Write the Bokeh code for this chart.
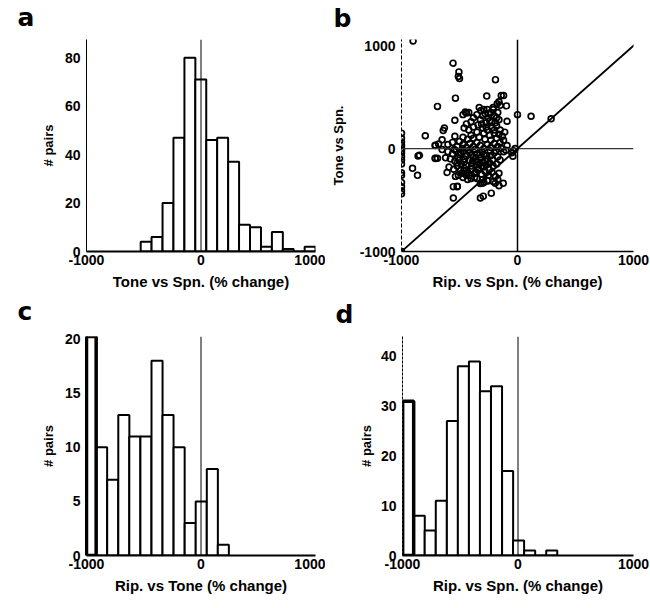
from bokeh.plotting import figure
from bokeh.models import FixedTicker, Span, Slope, Range1d, Title
from bokeh.layouts import column, row
from bokeh.embed import file_html
from bokeh.resources import INLINE

# ---------------- data ----------------
# panel a: Tone vs Spn. histogram
a_centers = [-479, -384, -288, -193, -97, -2, 94, 189, 285, 380, 476, 571, 667, 762, 858, 953]
a_counts = [4, 6, 20, 47, 80, 71, 46, 47, 37, 11, 10, 2, 8, 1, 0, 2]
a_width = 95.5

# panel c: Rip. vs Tone histogram (first bin clipped above 20)
c_centers = [-964, -868, -771, -674, -578, -481, -384, -288, -191, -94, 2, 99, 195]
c_counts = [26, 10, 7, 13, 11, 11, 18, 13, 10, 3, 5, 8, 1]
c_width = 96.6

# panel d: Rip. vs Spn. histogram
d_centers = [-951, -855, -760, -664, -568, -473, -377, -282, -186, -90, 5, 101, 196, 292]
d_counts = [31, 8, 5, 11, 27, 38, 39, 33, 34, 17, 3, 1, 0, 1]
d_width = 95.6

# panel b: scatter, Rip. vs Spn. (x) and Tone vs Spn. (y)
b_rip = [
    # outliers
    -900, -556, -505, -510, -500, -190, -535, -690, -140, -120, -265, -175, -150, -95, -160,
    -450, -440, -315, 0, 117, 290, -540, -630, -640, -795, -540, -90, -90, -50, -100, -20, -40, -35,
    # upper cluster
    -470, -420, -380, -350, -300, -280, -250, -230, -200, -180, -160, -220, -270, -320, -400,
    -440, -460, -420, -380, -340, -300, -260, -220, -180, -150, -200, -240, -290, -350, -400,
    -470, -430, -380, -330, -280, -230, -180, -150, -130, -330, -260, -210,
    -310, -270, -240, -190, -170, -210, -250, -290, -200, -160, -120, -110,
    # middle
    -680, -650, -650, -600, -560, -520, -500, -470, -440, -410, -380, -350, -320, -290, -260,
    -230, -200, -170, -140, -120, -600, -560, -530, -500, -470, -440, -410, -380, -350, -320,
    -290, -260, -230, -200, -170, -150, -620, -580, -540, -500, -460, -420, -390, -360, -330,
    -300, -270, -240, -210, -180, -690, -710, -710, -857, -845, -708, -708,
    # dense core
    -545, -515, -485, -455, -425, -395, -365, -335, -305, -275, -245, -215, -185, -475, -445,
    -415, -385, -355, -325, -295, -265, -235, -520, -490, -460, -430, -400, -370, -340, -310,
    # lower
    -590, -550, -520, -490, -460, -430, -400, -370, -340, -310, -280, -250, -220, -190, -160,
    -535, -510, -470, -440, -400, -350, -300, -260, -210, -170, -480, -518, -553, -520, -553,
    -320, -295, -226, -320, -303, -192, -123, -290, -255, -160, -607, -905, -862,
    # column at -1000
    -1000, -1000, -1000, -1000, -1000, -1000, -1000, -1000, -1000, -1000, -1000, -1000,
    -1000, -1000, -1000, -1000, -1000,
]
b_tone = [
    # outliers
    1045, 830, 745, 700, 680, 670, 490, 410, 515, 515, 510, 435, 420, 415, 455,
    355, 345, 370, 330, 315, 290, 275, 200, 175, 125, 120, 265, 30, -40, -15, 0, -75, -20,
    # upper cluster
    330, 350, 300, 330, 320, 340, 300, 350, 320, 300, 280, 260, 250, 280, 260,
    240, 200, 180, 210, 230, 200, 180, 200, 220, 180, 150, 130, 150, 160, 130,
    110, 90, 100, 110, 90, 80, 100, 60, 120, 400, 380, 400,
    240, 210, 270, 250, 350, 380, 340, 380, 180, 140, 80, 160,
    # middle
    45, 85, -10, 40, 60, 20, 70, 40, 10, 50, 20, 60, 30, 0, 40,
    10, 50, 20, 0, -30, -30, -50, -20, -60, -30, -70, -40, -80, -50, -90,
    -60, -100, -70, -40, -80, -110, -90, -100, -120, -110, -130, -110, -140, -120, -150,
    -130, -160, -140, -170, -150, -95, 30, -95, -71, -65, 32, -96,
    # dense core
    -10, -90, -150, -100, -20, -170, -10, -190, -30, -120, -200, -110, -20, 0, -160,
    -260, -120, -230, -60, -180, -70, -20, -140, -40, -220, -300, -60, -280, -130, -170,
    # lower
    -180, -200, -170, -210, -190, -230, -200, -240, -210, -250, -220, -260, -230, -270, -240,
    -270, -260, -280, -260, -290, -290, -300, -310, -320, -300, -240, -365, -370, -370, -480,
    -480, -462, -433, -340, -337, -337, -337, -330, -315, -360, -232, -192, -260,
    # column at -1000
    150, 100, 65, 30, 0, -20, -45, -80, -110, -150, -235, -260, -330, -370, -410, -440, -1000,
]

x_ticks = [-1000, 0, 1000]
x_tick_labels = ["-1000", "0", "1000"]
a_yticks = [0, 20, 40, 60, 80]
b_yticks = [-1000, 0, 1000]
b_ytick_labels = ["-1000", "0", "1000"]
c_yticks = [0, 5, 10, 15, 20]
d_yticks = [0, 10, 20, 30, 40]

FONT = "Liberation Sans"
LFONT = "DejaVu Sans"


def base_fig(letter, w, h, left, right, top, bottom, xr, yr, loff, spacer):
    p = figure(width=w, height=h, title=None, toolbar_location=None, output_backend="svg",
               x_range=Range1d(*xr), y_range=Range1d(*yr),
               min_border_left=left, min_border_right=right,
               min_border_top=top, min_border_bottom=bottom)
    # invisible spacer title lifts the panel letter away from the frame
    p.add_layout(Title(text=" ", text_font_size=spacer, standoff=0), "above")
    p.add_layout(Title(text=letter, align="left", offset=loff, standoff=0,
                       text_font=LFONT, text_font_style="bold",
                       text_font_size="25px", text_color="black"), "above")
    p.outline_line_color = None
    p.xgrid.visible = False
    p.ygrid.visible = False
    p.background_fill_color = "white"
    p.border_fill_color = "white"
    return p


def style_axes(p, xlabel, ylabel, yticks, ylabels, ylabel_standoff, x_lw, y_lw, y_dash="solid"):
    p.xaxis.ticker = FixedTicker(ticks=x_ticks)
    p.xaxis.major_label_overrides = {t: l for t, l in zip(x_ticks, x_tick_labels)}
    p.yaxis.ticker = FixedTicker(ticks=yticks)
    p.yaxis.major_label_overrides = {t: l for t, l in zip(yticks, ylabels)}
    for ax in (p.xaxis[0], p.yaxis[0]):
        ax.major_tick_in = 0
        ax.major_tick_out = 0
        ax.minor_tick_in = 0
        ax.minor_tick_out = 0
        ax.axis_line_color = "black"
        ax.major_label_text_font = FONT
        ax.major_label_text_font_style = "bold"
        ax.major_label_text_font_size = "14px"
        ax.major_label_text_color = "black"
        ax.axis_label_text_font = FONT
        ax.axis_label_text_font_style = "bold"
        ax.axis_label_text_color = "black"
    p.xaxis.axis_line_width = x_lw
    p.yaxis.axis_line_width = y_lw
    p.yaxis.axis_line_dash = y_dash
    p.xaxis.major_label_standoff = 3
    p.yaxis.major_label_standoff = 6
    p.xaxis.axis_label = xlabel
    p.yaxis.axis_label = ylabel
    p.xaxis.axis_label_text_font_size = "15px"
    p.yaxis.axis_label_text_font_size = "13px"
    p.xaxis.axis_label_standoff = 5
    p.yaxis.axis_label_standoff = ylabel_standoff


def hist_panel(letter, w, h, left, right, top, bottom, ytop, centers, counts, width,
               thick_first, loff, spacer):
    p = base_fig(letter, w, h, left, right, top, bottom, (-1000, 1000), (0, ytop), loff, spacer)
    p.vbar(x=centers, top=counts, width=width, bottom=0,
           fill_color="white", line_color="black", line_width=2)
    if thick_first:
        p.vbar(x=centers[:1], top=counts[:1], width=width, bottom=0,
               fill_color="white", line_color="black", line_width=3.5)
    p.add_layout(Span(location=0, dimension="height", line_color="black", line_width=1))
    return p


# ---------------- panel a ----------------
pa = hist_panel("a", 325, 294, 86, 10, 39, 41, 87.5, a_centers, a_counts, a_width, False, -69, "5px")
style_axes(pa, "Tone vs Spn. (% change)", "# pairs", a_yticks, [str(t) for t in a_yticks], 6, 2, 1)

# ---------------- panel b ----------------
pb = base_fig("b", 325, 294, 76, 17, 37, 43, (-1000, 1000), (-1000, 1060), -68, "4px")
pb.add_layout(Span(location=0, dimension="width", line_color="#333333", line_width=1.2))
pb.add_layout(Span(location=0, dimension="height", line_color="black", line_width=1.5))
pb.add_layout(Slope(gradient=1, y_intercept=0, line_color="black", line_width=1.8))
pb.scatter(x=b_rip, y=b_tone, marker="circle", size=5.8, fill_alpha=0,
           line_color="black", line_width=1.7)
style_axes(pb, "Rip. vs Spn. (% change)", "Tone vs Spn.", b_yticks, b_ytick_labels, 11, 1.5, 1, "4 2")

# ---------------- panel c ----------------
pc = hist_panel("c", 325, 314, 86, 10, 42, 53, 20.25, c_centers, c_counts, c_width, True, -69, "8px")
style_axes(pc, "Rip. vs Tone (% change)", "# pairs", c_yticks, [str(t) for t in c_yticks], 6, 2, 3)

# ---------------- panel d ----------------
pd_ = hist_panel("d", 325, 314, 77, 17, 39, 52, 44, d_centers, d_counts, d_width, True, -67, "6px")
style_axes(pd_, "Rip. vs Spn. (% change)", "# pairs", d_yticks, [str(t) for t in d_yticks], 4, 2, 1, "3 1")

layout = column(row(pa, pb), row(pc, pd_))
open("out.html", "w").write(file_html(layout, INLINE))
